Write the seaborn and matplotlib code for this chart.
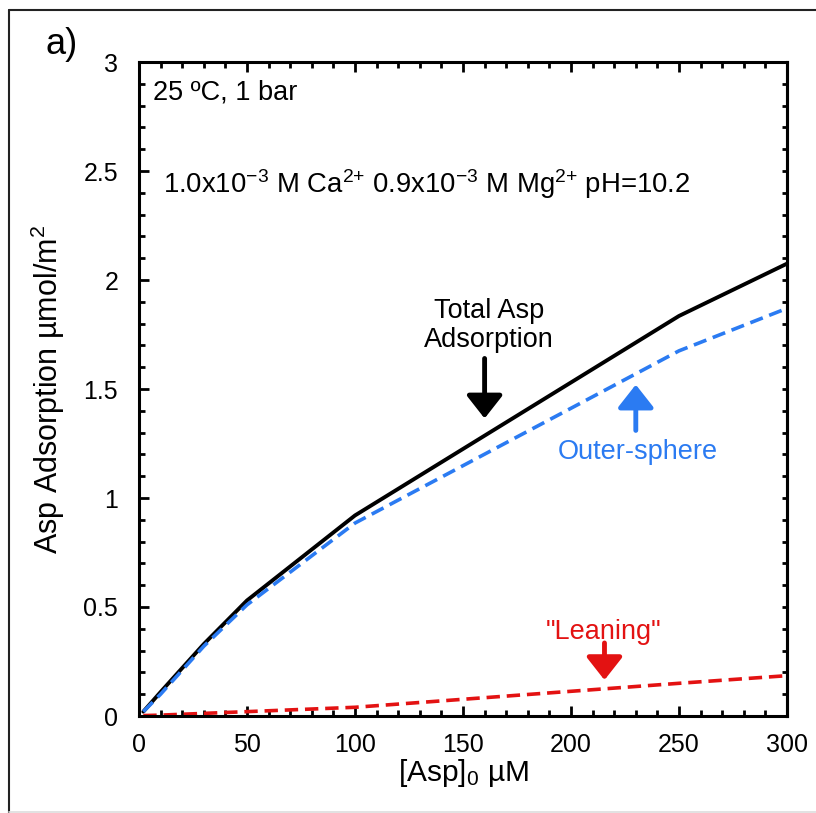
import numpy as np
import pandas as pd
import matplotlib
matplotlib.use("Agg")
import matplotlib.pyplot as plt
from matplotlib.ticker import MultipleLocator
from matplotlib.lines import Line2D
import seaborn as sns

# Values
asp_um      = [2, 10, 20, 30, 50, 100, 250, 300]
total_ads   = [0.02, 0.11, 0.22, 0.33, 0.53, 0.92, 1.835, 2.075]
outer_ads   = [0.02, 0.10, 0.21, 0.32, 0.51, 0.885, 1.675, 1.87]
leaning_ads = [0.002, 0.004, 0.008, 0.012, 0.02, 0.04, 0.15, 0.185]

BLUE = "#2B7BF2"
RED  = "#E31212"

sns.set_style("ticks", rc={"axes.edgecolor": "black", "text.color": "black",
                           "axes.labelcolor": "black", "xtick.color": "black",
                           "ytick.color": "black"})
plt.rcParams["font.family"] = ["Liberation Sans", "DejaVu Sans"]
plt.rcParams["mathtext.default"] = "regular"

df = pd.DataFrame({"asp": asp_um, "total": total_ads,
                   "outer": outer_ads, "leaning": leaning_ads})

fig = plt.figure(figsize=(8.16, 8.13), dpi=100)
ax = fig.add_axes([139/816, 1 - 716/813, 648/816, 654/813])

sns.lineplot(data=df, x="asp", y="total", color="black", lw=2.8, ax=ax)
sns.lineplot(data=df, x="asp", y="outer", color=BLUE, lw=2.6, ls="--", ax=ax)
ax.lines[-1].set_dashes((3.7, 1.9))
sns.lineplot(data=df, x="asp", y="leaning", color=RED, lw=2.6, ls="--", ax=ax)
ax.lines[-1].set_dashes((3.7, 1.9))

ax.set_xlim(0, 300)
ax.set_ylim(0, 3)
ax.xaxis.set_major_locator(MultipleLocator(50))
ax.xaxis.set_minor_locator(MultipleLocator(10))
ax.yaxis.set_minor_locator(MultipleLocator(0.1))
ax.set_yticks(np.arange(0, 3.01, 0.5))
ax.set_yticklabels(["0", "0.5", "1", "1.5", "2", "2.5", "3"])

for s in ax.spines.values():
    s.set_linewidth(2.2)
    s.set_visible(True)
ax.tick_params(which="both", direction="in", top=True, right=False,
               width=2, labelsize=18)
ax.tick_params(axis="x", which="major", length=7.5, pad=12)
ax.tick_params(axis="x", which="minor", length=4.5)
ax.tick_params(axis="y", which="major", length=7.5, pad=15)
ax.tick_params(axis="y", which="minor", length=4.5)

# right-hand ticks are all short
sec = ax.secondary_yaxis("right")
sec.yaxis.set_major_locator(MultipleLocator(0.1))
sec.tick_params(direction="in", length=3.8, width=2, labelright=False)
sec.spines["right"].set_linewidth(2.2)

ax.set_xlabel("[Asp]$_0$ µM", fontsize=21.5, labelpad=0)
ax.set_ylabel("Asp Adsorption µmol/m$^2$", fontsize=22, labelpad=12)

ax.text(6.5, 2.86, "25 ºC, 1 bar", fontsize=19.5, va="center", ha="left")
ax.text(11, 2.44, "1.0x10$^{-3}$ M Ca$^{2{+}}$ 0.9x10$^{-3}$ M Mg$^{2{+}}$ pH=10.2",
        fontsize=19.8, va="center", ha="left")

arrow = "-|>,head_length=0.7,head_width=0.55"

ax.text(162, 1.79, "Total Asp\nAdsorption", fontsize=19.5, ha="center",
        va="center", linespacing=1.15)
ax.annotate("", xy=(160, 1.365), xytext=(160, 1.64),
            arrowprops=dict(arrowstyle=arrow, lw=3.5, color="black",
                            mutation_scale=20, shrinkA=0, shrinkB=0))

ax.text(231, 1.21, "Outer-sphere", fontsize=19.5, ha="center", va="center",
        color=BLUE)
ax.annotate("", xy=(230, 1.52), xytext=(230, 1.31),
            arrowprops=dict(arrowstyle=arrow, lw=3.5, color=BLUE,
                            mutation_scale=20, shrinkA=0, shrinkB=0))

ax.text(215, 0.385, "\"Leaning\"", fontsize=19.5, ha="center", va="center",
        color=RED)
ax.annotate("", xy=(215.5, 0.165), xytext=(215.5, 0.335),
            arrowprops=dict(arrowstyle=arrow, lw=3.5, color=RED,
                            mutation_scale=20, shrinkA=0, shrinkB=0))

fig.text(62/816, 1 - 45/813, "a)", fontsize=26, ha="center", va="center")

# outer panel frame
fig.add_artist(Line2D([9/816, 9/816], [0, 1 - 10/813], color="#222222", lw=1.5))
fig.add_artist(Line2D([9/816, 1], [1 - 10/813, 1 - 10/813], color="#222222", lw=1.5))
fig.add_artist(Line2D([9/816, 1], [1/813, 1/813], color="#dddddd", lw=1.2))

fig.savefig("out.png", dpi=100)
